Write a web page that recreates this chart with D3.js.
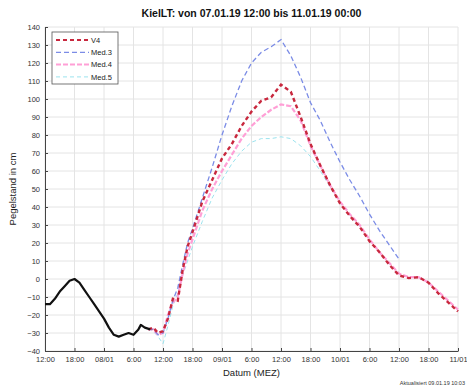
<!DOCTYPE html>
<html>
<head>
<meta charset="utf-8">
<script src="https://cdn.jsdelivr.net/npm/d3@7"></script>
<style>
  html, body { margin: 0; padding: 0; background: #fff; }
  svg { display: block; font-family: "Liberation Sans", Arial, sans-serif; }
</style>
</head>
<body>
<div id="chart"></div>
<script>
// hours since 07.01.19 12:00
const tickHours = [0, 6, 12, 18, 24, 30, 36, 42, 48, 54, 60, 66, 72, 78, 84];
const tickLabels = ['12:00', '18:00', '08/01', '6:00', '12:00', '18:00', '09/01', '6:00', '12:00', '18:00', '10/01', '6:00', '12:00', '18:00', '11/01'];
const yTicks = [-40, -30, -20, -10, 0, 10, 20, 30, 40, 50, 60, 70, 80, 90, 100, 110, 120, 130, 140];

// measured water level (black)
const obsHours = [0, 1, 2, 3, 4, 5, 6, 7, 8, 9, 10, 11, 12, 13, 14, 15, 16, 17, 18, 19, 19.5, 20.3, 21.4];
const obsValues = [-14, -14, -11, -7, -4, -1, 0, -2, -6, -10, -14, -18, -22, -27, -31, -32, -31, -30, -31, -28, -25.5, -27, -28];

// forecasts
const fcHours = [21, 22, 23, 24, 25, 26, 27, 28, 29, 30, 32, 34, 36, 38, 40, 42, 44, 46, 48, 50, 52, 54, 56, 58, 60, 62, 64, 66, 68, 70, 72, 74, 76, 78, 80, 82, 84];
const v4 = [-28, -27, -30, -29, -22, -11, -12, 5, 18, 26, 43, 55, 67, 75, 85, 93, 99, 101, 108, 104, 90, 75, 63, 52, 42, 35, 29, 21, 15, 8, 2, 0.5, 1, -2, -8, -13, -18];
const med3 = [-28, -28, -31, -30, -22, -12, -5, 8, 20, 28, 45, 62, 80, 96, 110, 120, 126, 129, 133, 124, 112, 98, 88, 76, 65, 55, 46, 36, 27, 19, 11, null, null, null, null, null, null];
const med4 = [-28, -28, -31, -30, -20, -13, -10, 3, 14, 22, 38, 50, 60, 69, 78, 85, 90, 94, 97, 96, 88, 74, 63, 52, 43, 36, 30, 22, 15, 9, 3, 1, 1, -2, -7, -12, -17];
const med5 = [-28, -29, -32, -36, -26, -15, -8, 2, 10, 18, 32, 45, 55, 64, 71, 76, 78, 78, 79, 78, 74, 68, 60, 51, 42, 35, 29, 21, 15, 8, 3, null, null, null, null, null, null];

const seriesNames = ['V4', 'Med.3', 'Med.4', 'Med.5'];

const W = 467, H = 388;
const margin = { top: 27, right: 9, bottom: 37, left: 45 };
const width = W - margin.left - margin.right;
const height = H - margin.top - margin.bottom;

const svg = d3.select('#chart').append('svg')
  .attr('width', W)
  .attr('height', H);

const g = svg.append('g')
  .attr('transform', `translate(${margin.left},${margin.top})`);

const x = d3.scaleLinear().domain([0, 84]).range([0, width]);
const y = d3.scaleLinear().domain([-40, 140]).range([height, 0]);

// grid
g.append('g').selectAll('line')
  .data(tickHours)
  .enter().append('line')
  .attr('x1', d => x(d)).attr('x2', d => x(d))
  .attr('y1', 0).attr('y2', height)
  .attr('stroke', '#e4e4e4').attr('stroke-width', 1);

g.append('g').selectAll('line')
  .data(yTicks)
  .enter().append('line')
  .attr('x1', 0).attr('x2', width)
  .attr('y1', d => y(d)).attr('y2', d => y(d))
  .attr('stroke', '#e4e4e4').attr('stroke-width', 1);

// axes
const xAxis = d3.axisBottom(x)
  .tickValues(tickHours)
  .tickFormat((d, i) => tickLabels[i])
  .tickSizeInner(-3).tickSizeOuter(0).tickPadding(6);

const yAxis = d3.axisLeft(y)
  .tickValues(yTicks)
  .tickSizeInner(-3).tickSizeOuter(0).tickPadding(5);

const gx = g.append('g')
  .attr('transform', `translate(0,${height})`)
  .call(xAxis);
gx.selectAll('text').style('fill', '#333').style('font-size', '7.5px');
gx.selectAll('line, path').attr('stroke', '#444');

const gy = g.append('g').call(yAxis);
gy.selectAll('text').style('fill', '#333').style('font-size', '7.5px');
gy.selectAll('line, path').attr('stroke', '#444');

// lines
const line = () => d3.line()
  .defined(d => d[1] !== null)
  .x(d => x(d[0]))
  .y(d => y(d[1]));

const pair = (hours, vals) => hours.map((h, i) => [h, vals[i]]);

const styles = {
  'Med.5': { color: '#9be3ee', width: 1, dash: '4,3' },
  'Med.4': { color: '#ff9fd6', width: 2.2, dash: '5,2' },
  'Med.3': { color: '#7b8ce6', width: 1.3, dash: '5,3' },
  'V4': { color: '#c8283e', width: 2.4, dash: '4,3' }
};
const seriesData = { 'V4': v4, 'Med.3': med3, 'Med.4': med4, 'Med.5': med5 };

['Med.5', 'Med.4', 'Med.3', 'V4'].forEach(name => {
  const s = styles[name];
  g.append('path')
    .datum(pair(fcHours, seriesData[name]))
    .attr('d', line())
    .attr('fill', 'none')
    .attr('stroke', s.color)
    .attr('stroke-width', s.width)
    .attr('stroke-dasharray', s.dash);
});

g.append('path')
  .datum(pair(obsHours, obsValues))
  .attr('d', line())
  .attr('fill', 'none')
  .attr('stroke', '#111')
  .attr('stroke-width', 2.2)
  .attr('stroke-linejoin', 'round');

// legend
const lg = g.append('g').attr('transform', 'translate(7,5)');
lg.append('rect')
  .attr('width', 66).attr('height', 52)
  .attr('fill', '#fff').attr('stroke', '#555').attr('stroke-width', 0.8);
seriesNames.forEach((name, i) => {
  const s = styles[name];
  const yy = 8 + i * 12.3;
  lg.append('line')
    .attr('x1', 4).attr('x2', 37).attr('y1', yy).attr('y2', yy)
    .attr('stroke', s.color).attr('stroke-width', Math.min(s.width, 2))
    .attr('stroke-dasharray', s.dash);
  lg.append('text')
    .attr('x', 39).attr('y', yy + 2.6)
    .style('font-size', '7.5px').style('fill', '#222')
    .text(name);
});

// title and labels
svg.append('text')
  .attr('x', margin.left + width / 2).attr('y', 17)
  .attr('text-anchor', 'middle')
  .style('font-size', '10.5px').style('font-weight', 'bold').style('fill', '#111')
  .text('KielLT: von 07.01.19 12:00 bis 11.01.19 00:00');

svg.append('text')
  .attr('x', margin.left + width / 2).attr('y', 376)
  .attr('text-anchor', 'middle')
  .style('font-size', '9.5px').style('fill', '#222')
  .text('Datum (MEZ)');

svg.append('text')
  .attr('transform', `translate(16,${margin.top + height / 2}) rotate(-90)`)
  .attr('text-anchor', 'middle')
  .style('font-size', '9.5px').style('fill', '#222')
  .text('Pegelstand in cm');

svg.append('text')
  .attr('x', 465).attr('y', 385)
  .attr('text-anchor', 'end')
  .style('font-size', '5.5px').style('fill', '#333')
  .text('Aktualisiert 09.01.19 10:03');
</script>
</body>
</html>
